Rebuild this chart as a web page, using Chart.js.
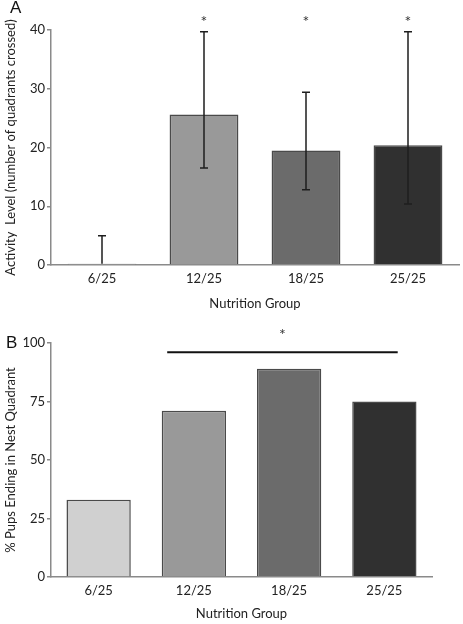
<!DOCTYPE html>
<html>
<head>
<meta charset="utf-8">
<script src="https://cdn.jsdelivr.net/npm/chart.js@4"></script>
<style>
  html, body { margin: 0; padding: 0; background: #fff; }
  #wrap { position: relative; width: 463px; height: 624px; }
  .panel { position: absolute; left: 0; width: 463px; height: 312px; }
  .letter { position: absolute; font-family: "Liberation Sans", Arial, sans-serif; font-size: 17px; color: #111; }
</style>
</head>
<body>
<div id="wrap">
  <div class="panel" style="top:0"><canvas id="chartA" width="463" height="312"></canvas></div>
  <div class="panel" style="top:312px"><canvas id="chartB" width="463" height="312"></canvas></div>
  <div class="letter" style="left:10px;top:-2px">A</div>
  <div class="letter" style="left:6px;top:333px">B</div>
</div>
<script>
// data
const groups = ["6/25", "12/25", "18/25", "25/25"];
const barColors = ["#d0d0d0", "#999999", "#6b6b6b", "#303030"];

// panel A: activity level, mean with error range
const activityMean = [0.2, 25.6, 19.5, 20.4];
const activityLow = [0.2, 16.5, 12.8, 10.4];
const activityHigh = [5.0, 39.7, 29.4, 39.7];
const activitySig = [false, true, true, true];
const activityTicks = [0, 10, 20, 30, 40];

// panel B: % pups ending in nest quadrant
const nestPct = [33, 71, 89, 75];
const nestTicks = [0, 25, 50, 75, 100];
// significance bar spans (category index) and height
const nestSigFrom = 0.72;
const nestSigTo = 3.14;
const nestSigY = 96;

const FONT = "Lato, 'Open Sans', sans-serif";
const FS = 13;
const axisGrey = "#8a8a8a";

// draws error bars + asterisks (panel A)
const errorBarPlugin = {
    id: "errorBars",
    afterDatasetsDraw(chart, args, opts) {
        if (!opts.low) return;
        const ctx = chart.ctx, x = chart.scales.x, y = chart.scales.y;
        ctx.save();
        ctx.strokeStyle = "#1e1e1e";
        ctx.lineWidth = 1.5;
        opts.low.forEach((lo, i) => {
            const cx = x.getPixelForValue(i);
            const yl = y.getPixelForValue(lo), yh = y.getPixelForValue(opts.high[i]);
            ctx.beginPath();
            ctx.moveTo(cx, yl); ctx.lineTo(cx, yh);
            ctx.moveTo(cx - 4, yh); ctx.lineTo(cx + 4, yh);
            if (lo > 1) { ctx.moveTo(cx - 4, yl); ctx.lineTo(cx + 4, yl); }
            ctx.stroke();
            if (opts.sig[i]) {
                ctx.fillStyle = "#333";
                ctx.font = "16px " + FONT;
                ctx.textAlign = "center";
                ctx.textBaseline = "middle";
                ctx.fillText("*", cx, y.getPixelForValue(42) + 4);
            }
        });
        ctx.restore();
    }
};

// draws significance line + asterisk (panel B)
const sigLinePlugin = {
    id: "sigLine",
    afterDatasetsDraw(chart, args, opts) {
        if (opts.from === undefined) return;
        const ctx = chart.ctx, x = chart.scales.x, y = chart.scales.y;
        const yy = y.getPixelForValue(opts.at);
        const x1 = x.getPixelForValue(opts.from), x2 = x.getPixelForValue(opts.to);
        ctx.save();
        ctx.strokeStyle = "#111";
        ctx.lineWidth = 2;
        ctx.beginPath();
        ctx.moveTo(x1, yy); ctx.lineTo(x2, yy);
        ctx.stroke();
        ctx.fillStyle = "#333";
        ctx.font = "16px " + FONT;
        ctx.textAlign = "center";
        ctx.textBaseline = "middle";
        ctx.fillText("*", (x1 + x2) / 2, y.getPixelForValue(opts.at + 9) + 4);
        ctx.restore();
    }
};

function makeChart(canvasId, values, yMax, yStep, yTitle, pad, plugins) {
    return new Chart(document.getElementById(canvasId), {
        type: "bar",
        data: {
            labels: groups,
            datasets: [{
                data: values,
                backgroundColor: barColors,
                borderColor: "#4a4a4a",
                borderWidth: 1.5,
                categoryPercentage: 1,
                barPercentage: 0.675
            }]
        },
        options: {
            responsive: false,
            animation: false,
            events: [],
            layout: { padding: pad },
            plugins: Object.assign({ legend: { display: false }, tooltip: { enabled: false } }, plugins),
            scales: {
                x: {
                    grid: { display: false, drawTicks: false },
                    border: { display: true, color: axisGrey, width: 1.5 },
                    ticks: { color: "#222", font: { family: FONT, size: FS }, padding: 6 },
                    title: { display: true, text: "Nutrition Group", color: "#222", font: { family: FONT, size: FS }, padding: { top: 0, bottom: pad.titleBottom } },
                    afterFit(s) { s.height = 47; }
                },
                y: {
                    min: 0, max: yMax,
                    ticks: { stepSize: yStep, color: "#222", font: { family: FONT, size: FS }, padding: 2 },
                    grid: { drawOnChartArea: false, drawTicks: true, tickLength: 4, color: axisGrey, lineWidth: 1.5 },
                    border: { display: true, color: axisGrey, width: 1.5 },
                    title: { display: true, text: yTitle, color: "#222", font: { family: FONT, size: FS }, padding: { top: 3, bottom: 0 } },
                    afterFit(s) { s.width = 51; }
                }
            }
        },
        plugins: [errorBarPlugin, sigLinePlugin]
    });
}

makeChart("chartA", activityMean, activityTicks[activityTicks.length - 1], 10,
    "Activity  Level (number of quadrants crossed)",
    { top: 30, right: 4, left: 0, bottom: 0, titleBottom: 0 },
    { errorBars: { low: activityLow, high: activityHigh, sig: activitySig } });

makeChart("chartB", nestPct, nestTicks[nestTicks.length - 1], 25,
    "% Pups Ending in Nest Quadrant",
    { top: 31, right: 31, left: 0, bottom: 0, titleBottom: 2 },
    { sigLine: { from: nestSigFrom, to: nestSigTo, at: nestSigY } });
</script>
</body>
</html>
